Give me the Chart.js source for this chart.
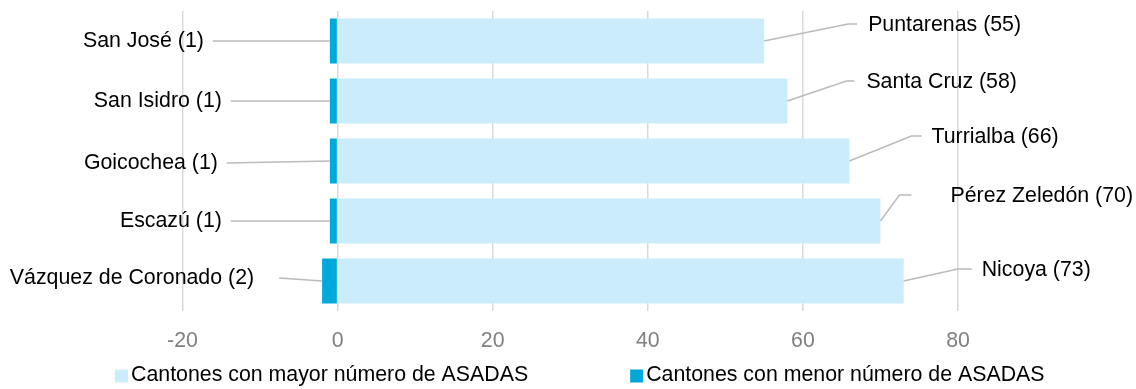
<!DOCTYPE html>
<html lang="es">
<head>
<meta charset="utf-8">
<title>ASADAS por cantón</title>
<script src="https://cdn.jsdelivr.net/npm/chart.js@4.4.1/dist/chart.umd.min.js"></script>
<style>
  html, body { margin: 0; padding: 0; background: #fff; }
  #wrap { width: 1136px; height: 389px; position: relative; }
</style>
</head>
<body>
<div id="wrap"><canvas id="asadasChart"></canvas></div>
<script>
// Cantones con mayor número de ASADAS (lado derecho)
var cantonesMayor = ['Puntarenas', 'Santa Cruz', 'Turrialba', 'Pérez Zeledón', 'Nicoya'];
var asadasMayor = [55, 58, 66, 70, 73];

// Cantones con menor número de ASADAS (negativos, lado izquierdo)
var cantonesMenor = ['San José', 'San Isidro', 'Goicochea', 'Escazú', 'Vázquez de Coronado'];
var asadasMenor = [-1, -1, -1, -1, -2];

// Eje X
var ejeMin = -20, ejeMax = 80, ejePaso = 20;

var FONT = '"Liberation Sans", Arial, sans-serif';
var FONT_SIZE = 21.33;

/**
 * Etiquetas con línea guía: nombre a la izquierda de la barra oscura,
 * nombre a la derecha de la barra clara.
 */
var leaderLabels = {
	id: 'leaderLabels',
	afterDatasetsDraw: function (chart, args, opts) {
		var ctx = chart.ctx;
		var mayor = chart.getDatasetMeta(0).data;
		var menor = chart.getDatasetMeta(1).data;
		ctx.save();
		ctx.font = FONT_SIZE + 'px ' + FONT;
		ctx.fillStyle = '#000';
		ctx.strokeStyle = opts.lineColor;
		ctx.lineWidth = opts.lineWidth;
		ctx.textBaseline = 'middle';

		// Izquierda
		ctx.textAlign = 'right';
		menor.forEach(function (bar, i) {
			var o = opts.left[i];
			var sx = bar.x - o.len, sy = bar.y + o.dy;
			ctx.beginPath();
			ctx.moveTo(sx, sy);
			ctx.lineTo(bar.x, bar.y);
			ctx.stroke();
			ctx.fillText(cantonesMenor[i] + ' (' + Math.abs(asadasMenor[i]) + ')', sx - o.gap, sy);
		});

		// Derecha
		ctx.textAlign = 'left';
		mayor.forEach(function (bar, i) {
			var o = opts.right[i];
			var ex = bar.x + o.dx, ey = bar.y + o.dy;
			ctx.beginPath();
			ctx.moveTo(bar.x, bar.y);
			ctx.lineTo(ex, ey);
			ctx.lineTo(ex + o.tail, ey);
			ctx.stroke();
			ctx.fillText(cantonesMayor[i] + ' (' + asadasMayor[i] + ')', ex + o.tail + o.gap, ey + 1);
		});
		ctx.restore();
	}
};

/**
 * Leyenda dibujada a mano (cuadro pegado al texto)
 */
var bottomLegend = {
	id: 'bottomLegend',
	afterDraw: function (chart, args, opts) {
		var ctx = chart.ctx;
		var x = opts.x, y = opts.y;
		ctx.save();
		ctx.font = FONT_SIZE + 'px ' + FONT;
		ctx.textBaseline = 'middle';
		ctx.textAlign = 'left';
		chart.data.datasets.forEach(function (ds) {
			ctx.fillStyle = ds.backgroundColor;
			ctx.fillRect(x, y - opts.box / 2 + 1, opts.box, opts.box);
			x += opts.box + opts.textGap;
			ctx.fillStyle = '#000';
			ctx.fillText(ds.label, x, y);
			x += ctx.measureText(ds.label).width + opts.itemGap;
		});
		ctx.restore();
	}
};

var asadasChart = new Chart(document.getElementById('asadasChart'), {
	type: 'bar',
	data: {
		labels: cantonesMayor,
		datasets: [
			{
				label: 'Cantones con mayor número de ASADAS',
				data: asadasMayor,
				backgroundColor: '#CBEDFB'
			},
			{
				label: 'Cantones con menor número de ASADAS',
				data: asadasMenor,
				backgroundColor: '#00A9DA'
			}
		]
	},
	options: {
		indexAxis: 'y',
		responsive: true,
		maintainAspectRatio: false,
		animation: false,
		devicePixelRatio: 1,
		datasets: {
			bar: { categoryPercentage: 0.75, barPercentage: 1, borderWidth: 0 }
		},
		layout: {
			padding: { left: 182.5, right: 178, top: 11, bottom: 18.4 }
		},
		scales: {
			x: {
				stacked: true,
				min: ejeMin,
				max: ejeMax,
				border: { display: false },
				grid: { color: '#D9D9D9', lineWidth: 1.5, drawTicks: false },
				ticks: {
					stepSize: ejePaso,
					padding: 17,
					color: '#808080',
					font: { family: FONT, size: FONT_SIZE }
				}
			},
			y: {
				stacked: true,
				display: false
			}
		},
		plugins: {
			legend: { display: false },
			tooltip: { enabled: false },
			leaderLabels: {
				lineColor: '#BBBBBB',
				lineWidth: 1.5,
				left: [
					{ len: 117, dy: 0, gap: 9 },
					{ len: 99, dy: 0, gap: 9 },
					{ len: 103, dy: 2, gap: 9 },
					{ len: 99, dy: 0, gap: 9 },
					{ len: 43, dy: -3, gap: 25 }
				],
				right: [
					{ dx: 84, dy: -17, tail: 9, gap: 11 },
					{ dx: 59, dy: -20, tail: 8, gap: 12 },
					{ dx: 62, dy: -25, tail: 10, gap: 10 },
					{ dx: 19, dy: -26, tail: 12, gap: 39 },
					{ dx: 54, dy: -12, tail: 14, gap: 10 }
				]
			},
			bottomLegend: { x: 115, y: 375, box: 13, textGap: 3, itemGap: 102 }
		}
	},
	plugins: [leaderLabels, bottomLegend]
});
</script>
</body>
</html>
